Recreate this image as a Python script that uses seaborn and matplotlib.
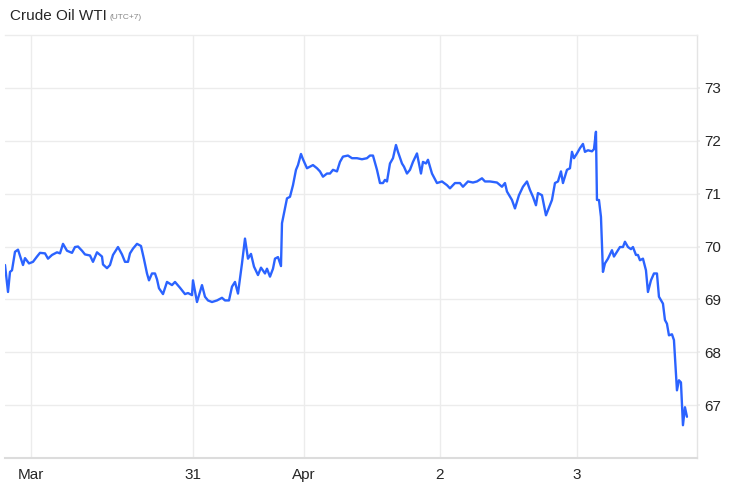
import matplotlib
matplotlib.use('Agg')
import matplotlib.pyplot as plt
import seaborn as sns
import pandas as pd

# Crude Oil WTI intraday prices.
# bar = sample index on the time axis (roughly 10-minute bars)
bars = [
    0, 3, 5, 7, 10, 13, 18, 20, 24, 28, 32, 35, 40, 43, 47, 52, 55, 58, 62, 67,
    70, 73, 77, 80, 85, 88, 92, 97, 98, 102, 105, 108, 113, 117, 120, 123, 125,
    128, 132, 136, 139, 142, 144, 147, 150, 152, 154, 158, 162, 167, 170, 175,
    180, 183, 187, 188, 192, 197, 200, 203, 207, 212, 217, 220, 224, 227, 230,
    233, 237, 240, 243, 246, 249, 253, 256, 260, 262, 265, 268, 270, 273, 276,
    277, 282, 285, 288, 291, 293, 296, 298, 302, 305, 308, 312, 315, 318, 322,
    325, 328, 332, 335, 338, 343, 347, 352, 357, 362, 365, 368, 372, 375, 378,
    380, 382, 385, 388, 391, 393, 397, 399, 402, 405, 408, 412, 416, 418, 421,
    423, 427, 432, 437, 442, 445, 450, 455, 458, 463, 468, 472, 477, 480, 485,
    492, 497, 500, 502, 507, 510, 514, 518, 522, 525, 528, 531, 533, 537, 541,
    545, 547, 550, 553, 556, 558, 562, 565, 567, 569, 572, 575, 578, 580, 583,
    587, 589, 591, 592, 594, 596, 598, 600, 603, 607, 609, 612, 615, 618, 620,
    623, 626, 628, 631, 633, 635, 638, 641, 643, 646, 649, 652, 654, 658, 660,
    662, 664, 667, 669, 672, 674, 676, 678, 680, 682,
]
prices = [
    69.65, 69.14, 69.52, 69.55, 69.90, 69.94, 69.65, 69.78, 69.68, 69.71, 69.81,
    69.88, 69.87, 69.77, 69.84, 69.89, 69.87, 70.05, 69.92, 69.88, 69.99, 70.00,
    69.92, 69.85, 69.83, 69.71, 69.89, 69.81, 69.66, 69.59, 69.65, 69.84, 69.99,
    69.85, 69.71, 69.71, 69.87, 69.96, 70.05, 70.01, 69.76, 69.49, 69.36, 69.49,
    69.49, 69.38, 69.21, 69.10, 69.33, 69.27, 69.33, 69.22, 69.10, 69.12, 69.08,
    69.36, 68.95, 69.27, 69.05, 68.98, 68.95, 68.98, 69.03, 68.98, 68.98, 69.24,
    69.33, 69.11, 69.68, 70.15, 69.77, 69.86, 69.62, 69.46, 69.60, 69.49, 69.58,
    69.43, 69.58, 69.77, 69.80, 69.63, 70.44, 70.91, 70.94, 71.16, 71.45, 71.54,
    71.75, 71.65, 71.48, 71.51, 71.54, 71.48, 71.42, 71.32, 71.38, 71.38, 71.45,
    71.42, 71.60, 71.70, 71.72, 71.67, 71.67, 71.65, 71.67, 71.72, 71.72, 71.45,
    71.20, 71.20, 71.26, 71.23, 71.57, 71.67, 71.92, 71.79, 71.57, 71.51, 71.38,
    71.45, 71.60, 71.76, 71.38, 71.60, 71.57, 71.64, 71.38, 71.20, 71.23, 71.16,
    71.10, 71.20, 71.20, 71.13, 71.23, 71.21, 71.23, 71.29, 71.23, 71.23, 71.21,
    71.13, 71.20, 71.04, 70.88, 70.72, 70.97, 71.13, 71.23, 71.07, 70.94, 70.78,
    71.01, 70.97, 70.59, 70.78, 70.88, 71.20, 71.23, 71.42, 71.20, 71.45, 71.48,
    71.79, 71.67, 71.76, 71.86, 71.94, 71.79, 71.82, 71.80, 71.84, 72.17, 70.88,
    70.88, 70.56, 69.52, 69.68, 69.77, 69.93, 69.81, 69.90, 69.99, 69.99, 70.09,
    69.99, 69.95, 69.99, 69.84, 69.84, 69.74, 69.77, 69.55, 69.14, 69.36, 69.49,
    69.49, 69.05, 68.92, 68.61, 68.54, 68.32, 68.34, 68.23, 67.28, 67.47, 67.43,
    66.62, 66.96, 66.78,
]

tick_bars = [26, 188, 299, 435, 572]
tick_labels = ['Mar', '31', 'Apr', '2', '3']
price_ticks = [67, 68, 69, 70, 71, 72, 73]

df = pd.DataFrame({'bar': bars, 'price': prices})

sns.set_theme(style='white')
plt.rcParams['font.family'] = ['Liberation Sans', 'DejaVu Sans']

GRID = '#ececec'
TEXT = '#262626'

fig = plt.figure(figsize=(7.47, 4.84), dpi=100)
ax = fig.add_axes([0.0067, 0.0537, 0.9263, 0.874])

sns.lineplot(data=df, x='bar', y='price', ax=ax, color='#2b63ff',
             linewidth=1.7, estimator=None, sort=False)

ax.set_xlim(0, 692)
ax.set_ylim(66, 74)
ax.set_xticks(tick_bars)
ax.set_xticklabels(tick_labels)
ax.set_yticks(price_ticks)
ax.yaxis.tick_right()
ax.set_xlabel('')
ax.set_ylabel('')

ax.grid(True, color=GRID, linewidth=1.0)
ax.set_axisbelow(True)
ax.tick_params(axis='y', which='both', right=True, length=2.5, color=GRID,
               pad=2.5, labelsize=11, labelcolor=TEXT)
ax.tick_params(axis='x', which='both', bottom=False, pad=1,
               labelsize=11, labelcolor=TEXT)

ax.spines['left'].set_visible(False)
ax.spines['top'].set_color(GRID)
ax.spines['right'].set_color('#e4e4e4')
ax.spines['bottom'].set_color('#dcdcdc')
ax.spines['bottom'].set_linewidth(1.5)
for side in ['top', 'right']:
    ax.spines[side].set_linewidth(1.0)

fig.text(0.014, 0.967, 'Crude Oil WTI', fontsize=11, color=TEXT,
         ha='left', va='center')
fig.text(0.147, 0.964, '(UTC+7)', fontsize=6, color='#888888',
         ha='left', va='center')

plt.savefig('out.png', dpi=100)
